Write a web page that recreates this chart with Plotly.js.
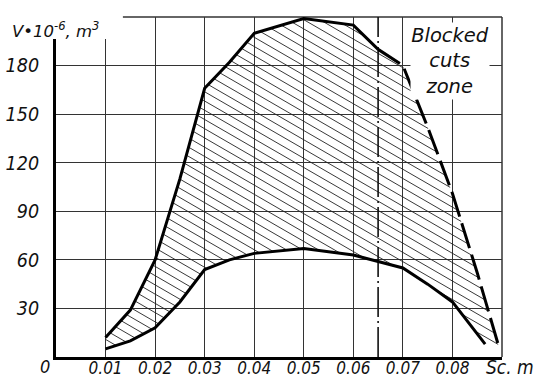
<!DOCTYPE html>
<html><head><meta charset="utf-8">
<script src="https://cdn.plot.ly/plotly-3.0.1.min.js"></script>
<style>html,body{margin:0;padding:0;background:#fff;}#chart{width:537px;height:377px;}</style>
</head><body><div id="chart"></div>
<script>
// Upper boundary (solid part, up to the blocked-zone line)
const upperSolidX = [0.01, 0.015, 0.02, 0.025, 0.03, 0.035, 0.04, 0.05, 0.06, 0.065];
const upperSolidY = [12, 29, 60, 110, 166, 182, 200, 209, 205, 190];
// Upper boundary inside the blocked cuts zone (dashed)
const upperDashX = [0.065, 0.07, 0.075, 0.08, 0.085, 0.0893];
const upperDashY = [190, 180, 142, 101, 52, 7];
// Lower boundary
const lowerX = [0.01, 0.015, 0.02, 0.025, 0.03, 0.035, 0.04, 0.05, 0.06, 0.065, 0.07, 0.075, 0.08, 0.0866];
const lowerY = [5, 10, 18, 34, 54, 60, 64, 67, 63, 59, 55, 45, 34, 8];
// Blocked zone boundary
const blockedX = 0.065;
// Axes
const xRange = [0, 0.09];
const yRange = [0, 210];
const xTickVals = [0.01, 0.02, 0.03, 0.04, 0.05, 0.06, 0.07, 0.08];
const xTickText = ["0.01", "0.02", "0.03", "0.04", "0.05", "0.06", "0.07", "0.08"];
const yTickVals = [30, 60, 90, 120, 150, 180];
const yTickText = ["30", "60", "90", "120", "150", "180"];

// layout sizes (style)
const W = 537, H = 377, M = {l: 56, r: 35, t: 17, b: 20};
const plotW = W - M.l - M.r, plotH = H - M.t - M.b;
const hatchAngleDeg = 30, hatchSpacingPx = 8;

const upperAllX = upperSolidX.concat(upperDashX.slice(1));
const upperAllY = upperSolidY.concat(upperDashY.slice(1));
const polyX = upperAllX.concat(lowerX.slice().reverse());
const polyY = upperAllY.concat(lowerY.slice().reverse());

// Hatching of the region between the curves (clipped to the polygon)
function hatch(xs, ys) {
  const kx = plotW / (xRange[1] - xRange[0]), ky = plotH / (yRange[1] - yRange[0]);
  const a = hatchAngleDeg * Math.PI / 180;
  const d = [Math.cos(a), -Math.sin(a)], n = [Math.sin(a), Math.cos(a)];
  const P = xs.map((x, i) => [x * kx, ys[i] * ky]);
  const proj = P.map(p => p[0] * n[0] + p[1] * n[1]);
  const cmin = Math.min(...proj), cmax = Math.max(...proj);
  const hx = [], hy = [];
  for (let c = Math.ceil(cmin / hatchSpacingPx) * hatchSpacingPx; c <= cmax; c += hatchSpacingPx) {
    const pts = [];
    for (let i = 0; i < P.length; i++) {
      const j = (i + 1) % P.length;
      const fa = proj[i] - c, fb = proj[j] - c;
      if ((fa < 0 && fb >= 0) || (fa >= 0 && fb < 0)) {
        const t = fa / (fa - fb);
        pts.push([P[i][0] + t * (P[j][0] - P[i][0]), P[i][1] + t * (P[j][1] - P[i][1])]);
      }
    }
    pts.sort((p, q) => (p[0] * d[0] + p[1] * d[1]) - (q[0] * d[0] + q[1] * d[1]));
    for (let k = 0; k + 1 < pts.length; k += 2) {
      hx.push(pts[k][0] / kx, pts[k + 1][0] / kx, null);
      hy.push(pts[k][1] / ky, pts[k + 1][1] / ky, null);
    }
  }
  return {hx, hy};
}
const H1 = hatch(polyX, polyY);

const narrow = "'Liberation Sans Narrow', 'DejaVu Sans Condensed', 'Liberation Sans', sans-serif";
const dejavu = "'DejaVu Sans', sans-serif";

const traces = [
  {x: H1.hx, y: H1.hy, type: 'scatter', mode: 'lines', connectgaps: false,
   line: {color: '#222', width: 0.9}, hoverinfo: 'skip'},
  {x: [blockedX, blockedX], y: yRange, type: 'scatter', mode: 'lines',
   line: {color: '#111', width: 1.6, dash: '30px,4px,2px,4px'}},
  {x: upperSolidX, y: upperSolidY, type: 'scatter', mode: 'lines', line: {color: '#000', width: 3}},
  {x: upperDashX, y: upperDashY, type: 'scatter', mode: 'lines', line: {color: '#000', width: 3, dash: '26px,7px'}},
  {x: lowerX, y: lowerY, type: 'scatter', mode: 'lines', line: {color: '#000', width: 3}}
];

const layout = {
  width: W, height: H,
  margin: {l: M.l, r: M.r, t: M.t, b: M.b, pad: 0},
  paper_bgcolor: '#fff', plot_bgcolor: '#fff',
  showlegend: false,
  xaxis: {range: xRange, tickvals: xTickVals, ticktext: xTickText, showgrid: true,
    gridcolor: '#333', gridwidth: 1.2, showline: true, linecolor: '#000', linewidth: 3,
    zeroline: false, ticks: '', ticklabelstandoff: -6,
    tickfont: {family: narrow, size: 17, style: 'italic', color: '#111'}},
  yaxis: {range: yRange, tickvals: yTickVals, ticktext: yTickText, showgrid: true,
    gridcolor: '#333', gridwidth: 1.2, showline: true, linecolor: '#000', linewidth: 3,
    zeroline: false, ticks: 'outside', ticklen: 10, tickcolor: 'rgba(0,0,0,0)', ticklabelstandoff: 0,
    tickfont: {family: narrow, size: 19.5, style: 'italic', color: '#111'}},
  shapes: [
    {type: 'line', xref: 'paper', yref: 'paper', x0: 0, x1: 1, y0: 1, y1: 1, line: {color: '#333', width: 1.5}, layer: 'below'},
    {type: 'line', xref: 'paper', yref: 'paper', x0: 1, x1: 1, y0: 0, y1: 1, line: {color: '#333', width: 1.5}, layer: 'below'},
    {type: 'rect', xref: 'paper', yref: 'paper', x0: -0.2, x1: 0.150, y0: 0.935, y1: 1.1, fillcolor: '#fff', line: {width: 0}, layer: 'above'}
  ],
  annotations: [
    {xref: 'paper', yref: 'paper', x: -0.1031, y: 0.962, xanchor: 'left', yanchor: 'middle', showarrow: false,
     text: 'V•10<sup>-6</sup>, m<sup>3</sup>', font: {family: dejavu, size: 16.5, style: 'italic', color: '#111'}},
    {xref: 'x', yref: 'y', x: 0.0795, y: 182.8, xanchor: 'center', yanchor: 'middle', showarrow: false,
     text: 'Blocked<br>cuts<br>zone', bgcolor: '#fff', width: 78, height: 76, borderpad: 0,
     font: {family: dejavu, size: 19.5, style: 'italic', color: '#111'}},
    {xref: 'paper', yref: 'paper', x: -0.0247, y: -0.0294, xanchor: 'center', yanchor: 'middle', showarrow: false,
     text: '0', borderpad: 0, font: {family: narrow, size: 18, style: 'italic', color: '#111'}},
    {xref: 'paper', yref: 'paper', x: 0.962, y: -0.0294, xanchor: 'left', yanchor: 'middle', showarrow: false,
     text: 'Sc. m', borderpad: 0, font: {family: narrow, size: 19, style: 'italic', color: '#111'}}
  ]
};

Plotly.newPlot('chart', traces, layout, {displayModeBar: false, staticPlot: true});
</script>
</body></html>
